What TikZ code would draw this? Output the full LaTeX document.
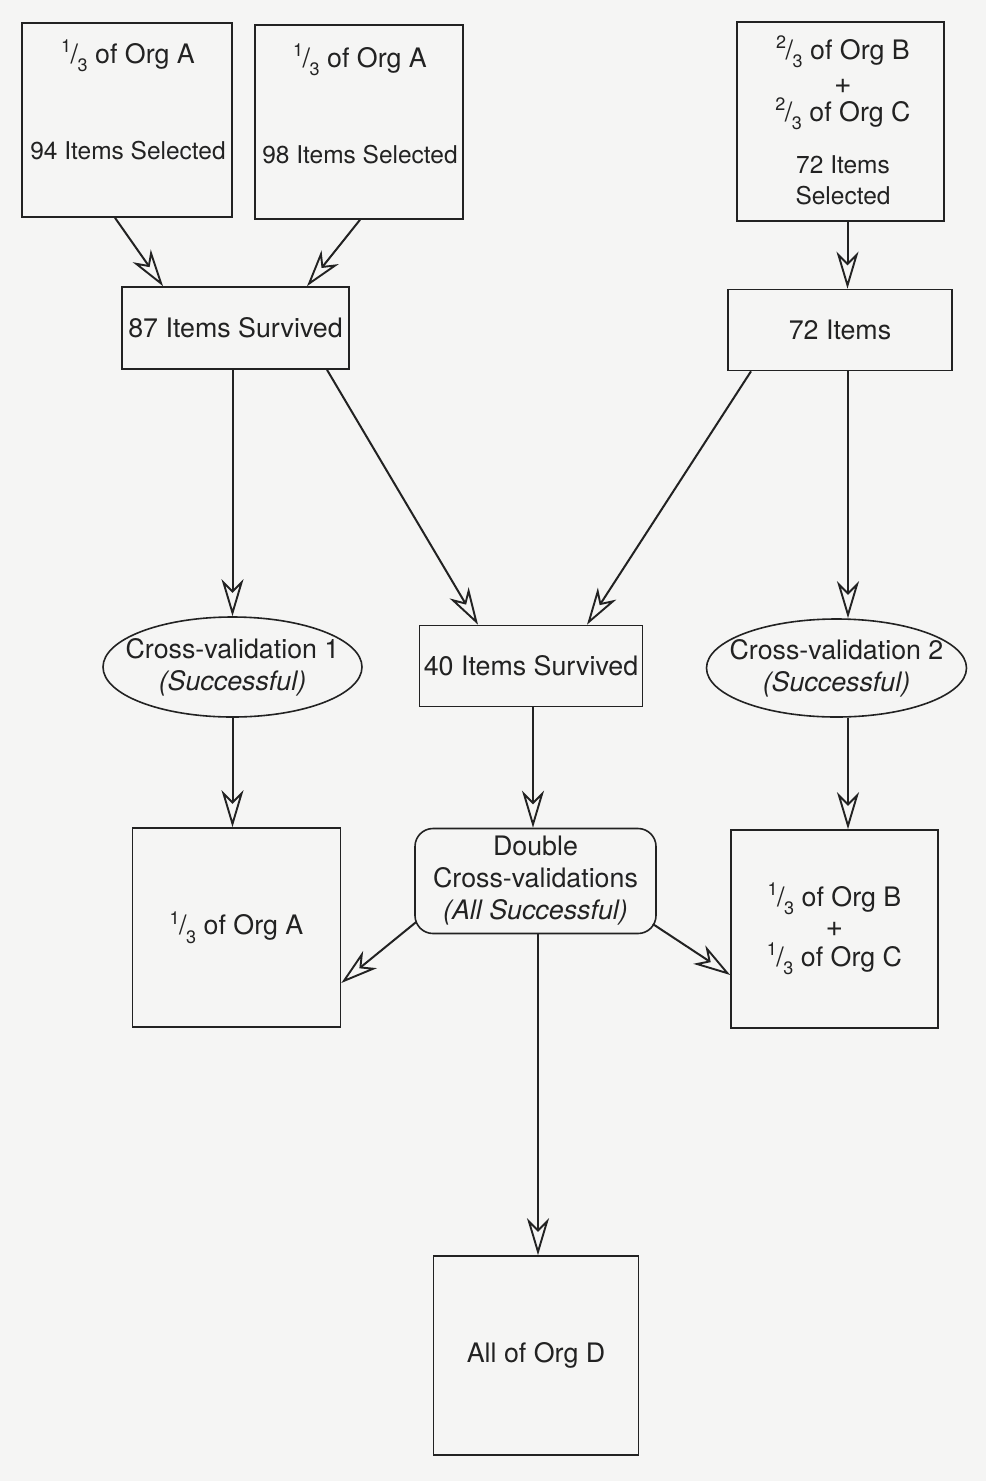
\documentclass[tikz,border=0pt]{standalone}
\usepackage{fontspec}
\setmainfont{TeX Gyre Heros}
\usetikzlibrary{arrows.meta,shapes.geometric}
\newcommand\fr[2]{\smash{\raisebox{10.5pt}{\fontsize{18}{18}\selectfont #1}}\kern-0.5pt/\kern-0.5pt\smash{\raisebox{-8.5pt}{\fontsize{18}{18}\selectfont #2}}}
\newcommand\plussign{\smash{\fontsize{30}{30}\selectfont +}}
\definecolor{ink}{HTML}{222222}
\definecolor{paper}{HTML}{F5F5F4}
\begin{document}
\begin{tikzpicture}[x=1pt,y=-1pt,
  every node/.style={text=ink},
  txt/.style={font=\fontsize{26.8}{32}\selectfont, inner sep=0pt, align=center},
  sml/.style={font=\fontsize{24.5}{30}\selectfont, inner sep=0pt, anchor=base},
  mid/.style={font=\fontsize{26.8}{32}\selectfont, inner sep=0pt, anchor=base},
  box/.style={draw=ink, line width=1.6pt, rectangle, inner sep=0pt, align=center,
              font=\fontsize{26.8}{32}\selectfont},
  oval/.style={draw=ink, line width=1.6pt, ellipse, inner sep=0pt},
  rbox/.style={draw=ink, line width=1.6pt, rectangle, rounded corners=18pt, inner sep=0pt,
              align=center, font=\fontsize{26.8}{32}\selectfont},
  arr/.style={draw=ink, line width=2pt,
              -{Stealth[open, length=37pt, width=22pt, inset=11pt, line width=1.9pt]}}
]
\fill[paper] (0,0) rectangle (986,1481);
\useasboundingbox (0,0) rectangle (986,1481);

% top boxes
\node[box, minimum width=210pt, minimum height=194pt] (a1) at (127,120) {};
\node[box, minimum width=208pt, minimum height=194pt] (a2) at (359,122) {};
\node[box, minimum width=207pt, minimum height=199pt] (bc) at (840.5,121.5) {};

\node[mid] (a1t) at (128,63) {\fr{1}{3} of Org A};
\node[sml] (a1b) at (128,159) {94 Items Selected};
\node[mid] (a2t) at (360,67) {\fr{1}{3} of Org A};
\node[sml] (a2b) at (360,163) {98 Items Selected};

\node[mid] (bct1) at (843,59) {\fr{2}{3} of Org B};
\node[inner sep=0pt, font=\fontsize{30}{30}\selectfont] (bcp) at (843,86) {+};
\node[mid] (bct2) at (843,121) {\fr{2}{3} of Org C};
\node[sml] (bct3) at (843,173) {72 Items};
\node[sml] (bct4) at (843,204) {Selected};

% second row
\node[box, minimum width=227pt, minimum height=82pt] (s87) at (235.5,328) {87 Items Survived};
\node[box, minimum width=224pt, minimum height=81pt] (i72) at (840,330) {72 Items};

% third row
\node[oval, minimum width=259pt, minimum height=100pt] (cv1) at (232.5,667) {};
\node[txt] (cv1t) at (cv1.center) {Cross-validation 1\\\textit{(Successful)}};
\node[box, minimum width=223pt, minimum height=81pt] (s40) at (531,666) {40 Items Survived};
\node[oval, minimum width=260pt, minimum height=98pt] (cv2) at (836.5,668) {};
\node[txt] (cv2t) at (cv2.center) {Cross-validation 2\\\textit{(Successful)}};

% fourth row
\node[box, minimum width=208pt, minimum height=199pt] (oa) at (236.5,927.5) {\fr{1}{3} of Org A};
\node[rbox, minimum width=241pt, minimum height=105pt] (dbl) at (535.5,881)
  {Double\\Cross-validations\\\textit{(All Successful)}};
\node[box, minimum width=207pt, minimum height=198pt] (obc) at (834.5,929)
  {\fr{1}{3} of Org B\\[-2pt]\plussign\\[-2pt]\fr{1}{3} of Org C};

% bottom
\node[box, minimum width=205pt, minimum height=199pt] (od) at (536,1355.5) {All of Org D};

% connectors
\draw[arr] ([xshift=-12pt]a1.south) -- ([xshift=-72.5pt]s87.north);
\draw[arr] ([xshift=1pt]a2.south) -- ([xshift=71.5pt]s87.north);
\draw[arr] ([xshift=7pt]bc.south) -- ([xshift=7.5pt]i72.north);
\draw[arr] ([xshift=-3pt]s87.south) -- (cv1.north);
\draw[arr] ([xshift=91.5pt]s87.south) -- ([xshift=-53pt]s40.north);
\draw[arr] ([xshift=-89pt]i72.south) -- ([xshift=56pt]s40.north);
\draw[arr] ([xshift=8pt]i72.south) -- ([xshift=11.5pt]cv2.north);
\draw[arr] (cv1.south) -- (cv1.south |- oa.north);
\draw[arr] ([xshift=2pt]s40.north |- s40.south) -- ([xshift=-2.5pt]dbl.north);
\draw[arr] ([xshift=11.5pt]cv2.south) -- ([xshift=11.5pt]cv2.south |- obc.north);
\draw[arr] ([xshift=2pt,yshift=-41pt]dbl.west) -- ([yshift=-55.5pt]oa.east);
\draw[arr] ([xshift=-4pt,yshift=-43pt]dbl.east) -- ([yshift=-46pt]obc.west);
\draw[arr] ([xshift=2.5pt]dbl.south) -- ([xshift=2pt]od.north);
\end{tikzpicture}
\end{document}
